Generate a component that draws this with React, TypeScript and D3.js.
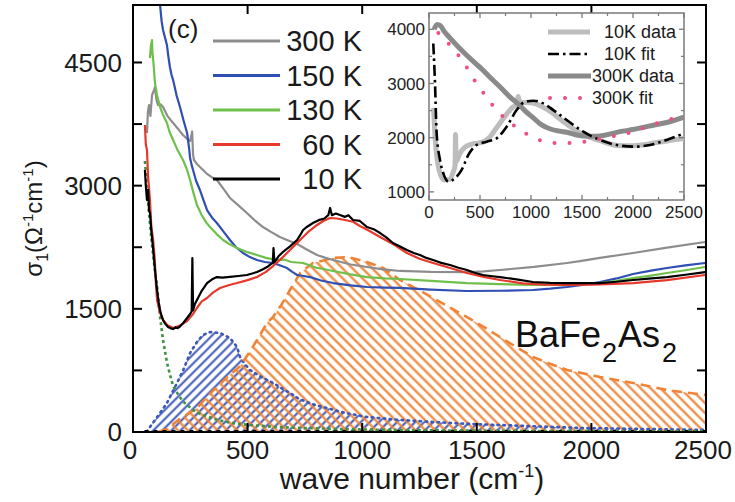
import React from 'react';
import * as d3 from 'd3';

type P = [number, number];

// ---------- main panel data: wave number (cm^-1), sigma1 (Ohm^-1 cm^-1) ----------
const k300: P[] = [[61,3641],[65,3900],[70,3982],[76,3850],[83,4104],[90,4150],[96,4201],[102,4050],[109,3982],[120,3990],[131,3958],[150,3850],[175,3763],[200,3680],[218,3617],[240,3560],[249,3544],[255,3617],[258,3660],[262,3380],[266,3312],[280,3260],[292,3227],[320,3150],[345,3100],[366,3069],[395,2960],[423,2850],[460,2760],[497,2667],[530,2580],[567,2496],[600,2440],[641,2375],[680,2330],[716,2289],[760,2220],[803,2155],[840,2120],[873,2094],[950,2040],[1021,2009],[1090,1980],[1165,1961],[1300,1950],[1457,1948],[1530,1955],[1601,1973],[1750,2010],[1894,2058],[1950,2080],[2037,2120],[2182,2180],[2330,2245],[2496,2314]];
const k150: P[] = [[96,5500],[110,5300],[118,5200],[125,5000],[131,4895],[140,4800],[148,4713],[155,4560],[161,4445],[168,4350],[175,4286],[190,4100],[205,3958],[220,3800],[236,3641],[245,3450],[249,3337],[256,3250],[262,3190],[275,3060],[292,2947],[308,2820],[323,2703],[345,2610],[366,2545],[395,2440],[423,2338],[450,2250],[480,2180],[510,2130],[541,2094],[575,2070],[611,2058],[640,2030],[672,1997],[695,1950],[716,1912],[745,1900],[772,1887],[820,1845],[873,1814],[950,1785],[1021,1766],[1100,1758],[1165,1754],[1300,1735],[1457,1717],[1600,1720],[1745,1729],[1820,1745],[1894,1766],[1960,1790],[2037,1827],[2110,1870],[2182,1924],[2260,1965],[2330,1997],[2410,2030],[2496,2058]];
const k130: P[] = [[74,4554],[78,4700],[83,4773],[85,4600],[87,4567],[92,4400],[96,4250],[105,4100],[118,3958],[130,3870],[148,3763],[160,3650],[175,3556],[195,3430],[218,3312],[235,3200],[249,3069],[265,2900],[279,2764],[300,2640],[320,2550],[336,2496],[365,2410],[393,2338],[420,2290],[454,2241],[500,2190],[541,2155],[580,2120],[628,2094],[660,2100],[690,2070],[742,2058],[770,2030],[800,2000],[830,1985],[873,1961],[950,1920],[1021,1887],[1100,1870],[1165,1863],[1300,1840],[1457,1814],[1600,1800],[1745,1790],[1894,1795],[2037,1814],[2110,1840],[2182,1875],[2260,1905],[2330,1936],[2410,1970],[2496,2009]];
const k60: P[] = [[52,3738],[56,3500],[61,3434],[66,3100],[74,2825],[80,2500],[87,2362],[95,2100],[100,1800],[105,1607],[118,1450],[131,1364],[150,1300],[175,1266],[200,1290],[236,1352],[260,1430],[279,1510],[300,1590],[323,1632],[350,1700],[380,1754],[420,1790],[454,1814],[500,1850],[541,1887],[580,1950],[611,2021],[650,2120],[685,2216],[715,2300],[742,2375],[770,2450],[803,2521],[830,2570],[860,2606],[890,2600],[925,2582],[960,2560],[990,2508],[1030,2450],[1078,2375],[1140,2280],[1195,2180],[1250,2110],[1309,2058],[1380,2000],[1457,1936],[1530,1890],[1601,1851],[1700,1810],[1800,1795],[1894,1790],[2000,1795],[2100,1805],[2182,1814],[2330,1850],[2496,1912]];
const k10: P[] = [[52,3190],[56,3000],[61,2825],[66,2950],[70,2700],[74,2667],[80,2450],[87,2253],[95,2000],[105,1729],[112,1580],[118,1486],[125,1410],[131,1364],[140,1320],[153,1279],[165,1262],[175,1254],[185,1275],[195,1265],[205,1285],[220,1330],[236,1388],[250,1440],[256,1470],[259,2119],[262,1480],[270,1560],[279,1607],[300,1720],[323,1814],[345,1860],[366,1887],[390,1880],[423,1890],[460,1900],[497,1912],[520,1930],[541,1948],[565,1980],[585,2009],[600,2040],[610,2060],[613,2240],[617,2070],[635,2140],[654,2192],[685,2260],[716,2338],[730,2400],[742,2460],[760,2500],[785,2545],[810,2580],[835,2600],[852,2640],[860,2728],[868,2640],[885,2660],[903,2642],[925,2620],[940,2640],[960,2582],[990,2570],[1021,2496],[1050,2470],[1078,2423],[1105,2370],[1134,2302],[1165,2260],[1195,2216],[1225,2180],[1252,2155],[1280,2120],[1309,2094],[1345,2060],[1383,2034],[1420,2000],[1457,1973],[1490,1940],[1527,1912],[1560,1900],[1601,1887],[1680,1855],[1745,1827],[1820,1815],[1894,1814],[1960,1812],[2037,1814],[2110,1830],[2182,1851],[2250,1868],[2330,1887],[2410,1915],[2496,1948]];

// fit components of the 10 K spectrum
const drudeFit: P[] = [[52,3300],[62,2950],[72,2600],[82,2300],[95,1980],[105,1780],[118,1400],[131,1120],[148,850],[161,700],[175,560],[192,480],[215,380],[240,320],[262,270],[300,210],[366,150],[430,110],[510,85],[620,62],[730,50],[900,35],[1200,22],[1600,14],[2000,10],[2500,7]];
const bluePeak: P[] = [[60,0],[74,61],[110,200],[148,353],[192,597],[220,760],[249,962],[280,1100],[305,1181],[336,1218],[380,1206],[423,1145],[454,1035],[467,913],[490,820],[511,755],[560,670],[611,597],[650,530],[685,475],[720,410],[759,365],[800,325],[846,292],[930,230],[1021,183],[1150,150],[1309,122],[1450,100],[1601,85],[1800,65],[1950,49],[2200,38],[2500,25]];
const orangePeak: P[] = [[110,0],[150,40],[200,150],[250,240],[279,290],[320,420],[370,560],[420,690],[467,800],[510,980],[541,1120],[585,1330],[611,1400],[650,1560],[685,1729],[729,1936],[785,2058],[873,2119],[940,2130],[1021,2070],[1091,1997],[1165,1851],[1240,1740],[1309,1632],[1380,1520],[1457,1400],[1530,1280],[1601,1157],[1675,1030],[1745,913],[1820,830],[1894,755],[2037,670],[2182,597],[2330,511],[2500,450]];
const baseFit: P[] = [[50,12],[2500,12]];

// ---------- inset data ----------
const in10data: P[] = [[45,2550],[60,2000],[80,1600],[110,1330],[150,1220],[200,1230],[240,1380],[255,1480],[260,2060],[266,1560],[300,1700],[350,1820],[420,1880],[480,1900],[540,1930],[600,2020],[650,2150],[700,2280],[760,2430],[820,2560],[860,2600],[875,2760],[890,2640],[950,2650],[1020,2640],[1100,2580],[1200,2470],[1300,2320],[1400,2180],[1500,2070],[1600,1990],[1700,1930],[1800,1870],[1900,1850],[2000,1850],[2100,1870],[2200,1900],[2300,1930],[2400,1960],[2500,1985]];
const in10fit: P[] = [[42,3737],[59,3000],[75,2080],[108,1589],[140,1344],[190,1190],[255,1252],[320,1405],[386,1681],[467,1865],[565,1926],[663,1988],[761,2202],[859,2509],[941,2662],[1023,2681],[1121,2632],[1219,2509],[1350,2325],[1513,2110],[1676,1957],[1840,1865],[2003,1834],[2167,1865],[2330,1957],[2500,2080]];
const in300data: P[] = [[50,4000],[80,4090],[110,4070],[150,3960],[200,3850],[300,3650],[370,3520],[450,3380],[530,3245],[600,3110],[700,2930],[800,2740],[870,2630],[950,2480],[1020,2370],[1100,2240],[1190,2160],[1280,2120],[1350,2100],[1450,2050],[1520,2030],[1600,2025],[1676,2030],[1800,2080],[1900,2120],[2000,2150],[2100,2190],[2200,2230],[2330,2280],[2420,2330],[2500,2380]];
const in300fit: P[] = [[92,3932],[222,3674],[337,3398],[441,3074],[549,2785],[663,2509],[827,2233],[974,2049],[1137,1926],[1284,1896],[1448,1908],[1600,1950],[1775,2018],[2003,2110],[2150,2215],[2314,2313],[2500,2400]];

// ---------- labels / ticks ----------
const mainXTicks = [0, 500, 1000, 1500, 2000, 2500];
const mainYTicks = [0, 1500, 3000, 4500];
const mainYMinor = [750, 2250, 3750];
const insetXTicks = [0, 500, 1000, 1500, 2000, 2500];
const insetXMinor = [250, 750, 1250, 1750, 2250];
const insetYTicks = [1000, 2000, 3000, 4000];
const insetYMinor = [1500, 2500, 3500];
const legendMain = ['300 K', '150 K', '130 K', '60 K', '10 K'];
const legendInset = ['10K data', '10K fit', '300K data', '300K fit'];

const FONT = '"Liberation Sans", Arial, Helvetica, sans-serif';
const C = {
  gray: '#8d8d8d', blue: '#2f4fb2', green: '#6fc04b', red: '#e6392c', black: '#000',
  orange: '#ef8436', hblue: '#3d58b8', dgreen: '#3d9440',
};

export default function App() {
  // main scales
  const x = d3.scaleLinear().domain([0, 2500]).range([133, 706]);
  const y = d3.scaleLinear().domain([0, 5200]).range([432, 5]);
  const line = d3.line<P>().x(d => x(d[0])).y(d => y(d[1]));
  const area = d3.area<P>().x(d => x(d[0])).y0(y(0)).y1(d => y(d[1]));

  // inset scales
  const ix = d3.scaleLinear().domain([0, 2500]).range([429, 684]);
  const iy = d3.scaleLinear().domain([850, 4300]).range([200, 13]);
  const iline = d3.line<P>().x(d => ix(d[0])).y(d => iy(d[1])).curve(d3.curveMonotoneX);

  const [X0, X1] = x.range();
  const [Y0, Y1] = y.range();
  const tl = 9;

  const mainCurves: [P[], string][] = [[k300, C.gray], [k150, C.blue], [k130, C.green], [k60, C.red], [k10, C.black]];
  const legendColors = [C.gray, C.blue, C.green, C.red, C.black];

  return (
    <svg width={735} height={502} style={{ position: 'absolute', left: 0, top: 0, background: '#fff' }} fontFamily={FONT}>
      <defs>
        <clipPath id="mainClip"><rect x={X0} y={Y1} width={X1 - X0} height={Y0 - Y1} /></clipPath>
        <clipPath id="insetClip"><rect x={ix(0)} y={iy(4300)} width={ix(2500) - ix(0)} height={iy(850) - iy(4300)} /></clipPath>
        <pattern id="hatchBlue" patternUnits="userSpaceOnUse" width={6.4} height={6.4} patternTransform="rotate(45)">
          <line x1={3.2} y1={0} x2={3.2} y2={6.4} stroke={C.hblue} strokeWidth={2} />
        </pattern>
        <pattern id="hatchOrange" patternUnits="userSpaceOnUse" width={7} height={7} patternTransform="rotate(-45)">
          <line x1={3.5} y1={0} x2={3.5} y2={7} stroke={C.orange} strokeWidth={2.2} />
        </pattern>
      </defs>

      <g clipPath="url(#mainClip)">
        <path d={area(bluePeak) || ''} fill="url(#hatchBlue)" />
        <path d={area(orangePeak) || ''} fill="url(#hatchOrange)" />
        <path d={line(bluePeak) || ''} fill="none" stroke={C.hblue} strokeWidth={2.6} strokeDasharray="1.5,4.5" strokeLinecap="round" />
        <path d={line(orangePeak) || ''} fill="none" stroke={C.orange} strokeWidth={2.6} strokeDasharray="10,6" />
        <path d={line(baseFit) || ''} fill="none" stroke="#000" strokeWidth={2} strokeDasharray="4,5" />
        <path d={line(drudeFit) || ''} fill="none" stroke={C.dgreen} strokeWidth={2.6} strokeDasharray="3,3" />
        {mainCurves.map(([d, c], i) => (
          <path key={i} d={line(d) || ''} fill="none" stroke={c} strokeWidth={2.2} strokeLinejoin="round" />
        ))}
      </g>

      {/* frame */}
      <rect x={X0} y={Y1} width={X1 - X0} height={Y0 - Y1} fill="none" stroke="#000" strokeWidth={2} />
      {mainXTicks.map(t => (
        <g key={'xt' + t}>
          <line x1={x(t)} x2={x(t)} y1={Y0} y2={Y0 - tl} stroke="#000" strokeWidth={2} />
          <line x1={x(t)} x2={x(t)} y1={Y1} y2={Y1 + tl} stroke="#000" strokeWidth={2} />
          <text x={x(t) - (t === 0 ? 3 : t === 2500 ? 3 : 0)} y={459} fontSize={26} textAnchor="middle" fill="#1a1a1a">{t}</text>
        </g>
      ))}
      {[...mainYTicks, ...mainYMinor].map(t => (
        <g key={'yt' + t}>
          <line x1={X0} x2={X0 + tl} y1={y(t)} y2={y(t)} stroke="#000" strokeWidth={2} />
          <line x1={X1} x2={X1 - tl} y1={y(t)} y2={y(t)} stroke="#000" strokeWidth={2} />
        </g>
      ))}
      {mainYTicks.map(t => (
        <text key={'yl' + t} x={122} y={y(t)} dy="0.36em" fontSize={26} textAnchor="end" fill="#1a1a1a">{t}</text>
      ))}

      {/* axis titles */}
      <text x={412} y={489} fontSize={30} textAnchor="middle" fill="#1a1a1a">
        wave number (cm<tspan dy={-12} fontSize={18}>-1</tspan><tspan dy={12}>)</tspan>
      </text>
      <text transform={`translate(42,${(Y0 + Y1) / 2}) rotate(-90)`} fontSize={24} textAnchor="middle" fill="#1a1a1a">
        σ<tspan dy={6} fontSize={16}>1</tspan><tspan dy={-6}>(Ω</tspan><tspan dy={-9} fontSize={15}>-1</tspan><tspan dy={9}>cm</tspan><tspan dy={-9} fontSize={15}>-1</tspan><tspan dy={9}>)</tspan>
      </text>

      <text x={168} y={38} fontSize={26} fill="#1a1a1a">(c)</text>

      {/* main legend */}
      {legendMain.map((lab, i) => {
        const yy = 41 + i * 34.5;
        return (
          <g key={lab}>
            <line x1={213} x2={280} y1={yy} y2={yy} stroke={legendColors[i]} strokeWidth={3} />
            <text x={362} y={yy} dy="0.36em" fontSize={29} textAnchor="end" fill="#1a1a1a">{lab}</text>
          </g>
        );
      })}

      {/* compound label */}
      <text x={515} y={347} fontSize={36} fill="#111">
        BaFe<tspan dy={15} fontSize={27} dx={1}>2</tspan><tspan dy={-15} dx={1}>As</tspan><tspan dy={15} fontSize={27} dx={2}>2</tspan>
      </text>

      {/* inset */}
      <rect x={ix(0)} y={iy(4300)} width={ix(2500) - ix(0)} height={iy(850) - iy(4300)} fill="#fff" stroke="#7a7a7a" strokeWidth={1.5} />
      <g clipPath="url(#insetClip)">
        <path d={iline(in10data) || ''} fill="none" stroke="#bdbdbd" strokeWidth={5} strokeLinejoin="round" />
        <path d={iline(in300data) || ''} fill="none" stroke="#8a8a8a" strokeWidth={5} strokeLinejoin="round" />
        <path d={iline(in10fit) || ''} fill="none" stroke="#000" strokeWidth={2.6} strokeDasharray="11,4,2.5,4" />
        <path d={iline(in300fit) || ''} fill="none" stroke="#ee4f7e" strokeWidth={4} strokeDasharray="0,15" strokeLinecap="round" />
      </g>
      {insetXTicks.map(t => (
        <g key={'ixt' + t}>
          <line x1={ix(t)} x2={ix(t)} y1={iy(850)} y2={iy(850) - 5} stroke="#7a7a7a" strokeWidth={1.3} />
          <line x1={ix(t)} x2={ix(t)} y1={iy(4300)} y2={iy(4300) + 5} stroke="#7a7a7a" strokeWidth={1.3} />
          <text x={ix(t)} y={218} fontSize={17} textAnchor="middle" fill="#222">{t}</text>
        </g>
      ))}
      {insetXMinor.map(t => (
        <g key={'ixm' + t}>
          <line x1={ix(t)} x2={ix(t)} y1={iy(850)} y2={iy(850) - 3} stroke="#7a7a7a" strokeWidth={1.2} />
          <line x1={ix(t)} x2={ix(t)} y1={iy(4300)} y2={iy(4300) + 3} stroke="#7a7a7a" strokeWidth={1.2} />
        </g>
      ))}
      {insetYTicks.map(t => (
        <g key={'iyt' + t}>
          <line x1={ix(0)} x2={ix(0) + 5} y1={iy(t)} y2={iy(t)} stroke="#7a7a7a" strokeWidth={1.3} />
          <line x1={ix(2500)} x2={ix(2500) - 5} y1={iy(t)} y2={iy(t)} stroke="#7a7a7a" strokeWidth={1.3} />
          <text x={425} y={iy(t)} dy="0.36em" fontSize={17} textAnchor="end" fill="#222">{t}</text>
        </g>
      ))}
      {insetYMinor.map(t => (
        <g key={'iym' + t}>
          <line x1={ix(0)} x2={ix(0) + 3} y1={iy(t)} y2={iy(t)} stroke="#7a7a7a" strokeWidth={1.2} />
          <line x1={ix(2500)} x2={ix(2500) - 3} y1={iy(t)} y2={iy(t)} stroke="#7a7a7a" strokeWidth={1.2} />
        </g>
      ))}

      {/* inset legend */}
      {legendInset.map((lab, i) => {
        const yy = [32, 54, 76, 98][i];
        const tx = i < 2 ? 604 : 592;
        return (
          <g key={lab}>
            {i === 0 && <line x1={548} x2={590} y1={yy} y2={yy} stroke="#bdbdbd" strokeWidth={5} />}
            {i === 1 && <line x1={548} x2={590} y1={yy} y2={yy} stroke="#000" strokeWidth={2.6} strokeDasharray="11,4,2.5,4" />}
            {i === 2 && <line x1={548} x2={591} y1={yy} y2={yy} stroke="#8a8a8a" strokeWidth={5} />}
            {i === 3 && <line x1={550} x2={590} y1={yy} y2={yy} stroke="#ee4f7e" strokeWidth={4} strokeDasharray="0,15" strokeLinecap="round" />}
            <text x={tx} y={yy} dy="0.36em" fontSize={18} fill="#1a1a1a">{lab}</text>
          </g>
        );
      })}
    </svg>
  );
}
